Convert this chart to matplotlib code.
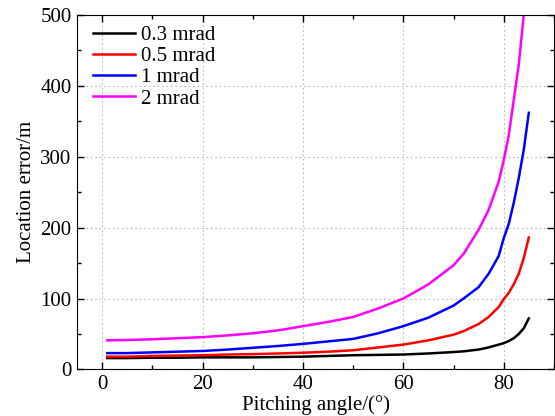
import numpy as np
import matplotlib.pyplot as plt
from matplotlib.ticker import MultipleLocator

plt.rcParams['font.family'] = ['Liberation Serif', 'DejaVu Serif']

# pitching angle (deg)
angle = [1, 5, 10, 15, 20, 25, 30, 35, 40, 45, 50, 55, 60, 65, 70, 72,
         75, 77, 79, 80, 81, 82, 83, 84, 85]

# location error (m) for each angle measurement error
err_03 = [16, 16, 16.5, 16.5, 17, 17, 17, 17.5, 18, 19, 20, 20.5, 21, 22.5,
          24.5, 25.5, 28, 31, 35, 37, 40, 44, 50, 58, 72]
err_05 = [18, 18, 19, 19.5, 20, 21, 21.5, 22.5, 23.5, 25, 27, 31, 35, 41,
          49, 54, 64, 74, 88, 99, 108, 120, 135, 157, 186]
err_1 = [23, 23, 24, 25, 26, 28, 30.5, 33, 36, 39.5, 43, 51, 61, 73, 90, 100,
         116, 135, 160, 185, 205, 235, 270, 310, 362]
err_2 = [41, 41.5, 42.5, 44, 45.5, 48, 51, 55, 61, 67, 74, 86, 100, 120, 147,
         163, 197, 225, 265, 295, 330, 380, 430, 500, 580]

series = [(err_03, 'k', '0.3 mrad'),
          (err_05, 'r', '0.5 mrad'),
          (err_1, 'b', '1 mrad'),
          (err_2, 'magenta', '2 mrad')]

fs = 15

fig = plt.figure(figsize=(5.55, 4.16), dpi=100)
ax = fig.add_axes([0.139, 0.112, 0.859, 0.852])

for vals, col, lab in series:
    ax.plot(angle, vals, color=col, lw=1.8, label=lab)

ax.set_xlim(-5, 90)
ax.set_ylim(0, 500)
ax.xaxis.set_major_locator(MultipleLocator(20))
ax.xaxis.set_minor_locator(MultipleLocator(10))
ax.yaxis.set_major_locator(MultipleLocator(100))
ax.yaxis.set_minor_locator(MultipleLocator(50))
ax.tick_params(which='both', direction='in', top=True, right=True,
               labelsize=fs, width=1)
ax.tick_params(which='major', length=5, pad=4)
ax.tick_params(which='minor', length=3)
ax.grid(True, which='major', ls=(0, (1.5, 2.5)), color='#b8b8b8', lw=0.8)

ax.set_xlabel('Pitching angle/(°)', fontsize=fs, labelpad=1)
ax.set_ylabel('Location error/m', fontsize=fs, labelpad=3)

ax.legend(loc='upper left', bbox_to_anchor=(0.012, 1.0), frameon=False,
          fontsize=fs, handlelength=2.0, handletextpad=0.3,
          labelspacing=0.08, borderaxespad=0.2, borderpad=0.3)

fig.savefig('out.png', dpi=100)
